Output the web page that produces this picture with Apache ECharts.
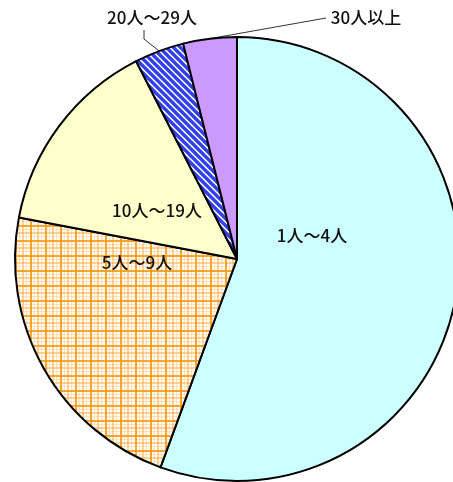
<!DOCTYPE html>
<html>
<head>
<meta charset="utf-8">
<script src="https://cdn.jsdelivr.net/npm/echarts@6/dist/echarts.min.js"></script>
<style>
  html, body { margin: 0; padding: 0; background: #fff; }
  #main { width: 453px; height: 482px; }
</style>
</head>
<body>
<div id="main"></div>
<script>
// 世帯人数別の割合 (%)
var categories = ['1人～4人', '5人～9人', '10人～19人', '20人～29人', '30人以上'];
var values = [55.6, 22.4, 14.5, 3.6, 3.9];

// 格子模様（オレンジ）
function plaid() {
  var n = 15;
  var c = document.createElement('canvas');
  c.width = n; c.height = n;
  var g = c.getContext('2d');
  g.fillStyle = '#fffcf6';
  g.fillRect(0, 0, n, n);
  var bands = [
    [4, 1, 'rgba(255,175,80,0.3)'],
    [7, 2, 'rgba(255,160,40,0.45)'],
    [11, 1, 'rgba(255,175,80,0.3)'],
    [0, 2, 'rgba(255,150,10,0.85)']
  ];
  bands.forEach(function (b) {
    g.fillStyle = b[2];
    g.fillRect(b[0], 0, b[1], n);
    g.fillRect(0, b[0], n, b[1]);
  });
  return c;
}
// 斜線模様（青）
function stripes() {
  var n = 7;
  var c = document.createElement('canvas');
  c.width = n; c.height = n;
  var g = c.getContext('2d');
  g.fillStyle = '#ffffff';
  g.fillRect(0, 0, n, n);
  g.strokeStyle = '#3340ee';
  g.lineWidth = 3.4;
  for (var k = -1; k <= 1; k++) {
    g.beginPath();
    g.moveTo(k * n - 1, -1);
    g.lineTo(k * n + n + 1, n + 1);
    g.stroke();
  }
  return c;
}

var fills = ['#ccffff', { image: plaid(), repeat: 'repeat' }, '#ffffcc',
  { image: stripes(), repeat: 'repeat' }, '#cc99ff'];

var labelPos = [
  { x: 312, y: 236 },
  { x: 137, y: 263 },
  { x: 157, y: 211 },
  { x: 152, y: 18 },
  { x: 366, y: 18 }
];

var myChart = echarts.init(document.getElementById('main'));
var option = {
  animation: false,
  series: [
    {
      type: 'pie',
      center: [237, 259],
      radius: 222,
      startAngle: 90,
      clockwise: true,
      itemStyle: { borderColor: '#000', borderWidth: 2 },
      label: {
        fontFamily: 'Noto Sans CJK JP',
        fontSize: 17,
        fontWeight: 500,
        color: '#111'
      },
      labelLine: { lineStyle: { color: '#333', width: 1 } },
      labelLayout: function (params) {
        var i = params.dataIndex;
        var p = labelPos[i];
        var res = { x: p.x, y: p.y, align: 'center', verticalAlign: 'middle' };
        if (i === 3) {
          var e = params.labelLinePoints ? params.labelLinePoints[0] : [158, 50];
          res.labelLinePoints = [e, [144, 39], [144, 30]];
        }
        if (i === 4) {
          var e2 = params.labelLinePoints ? params.labelLinePoints[0] : [218, 37];
          res.labelLinePoints = [e2, [e2[0], e2[1]], [326, 18]];
        }
        return res;
      },
      data: categories.map(function (name, i) {
        var outside = i >= 3;
        return {
          name: name,
          value: values[i],
          itemStyle: { color: fills[i] },
          label: { position: outside ? 'outside' : 'inside' },
          labelLine: { show: outside }
        };
      })
    }
  ]
};
myChart.setOption(option);
</script>
</body>
</html>
